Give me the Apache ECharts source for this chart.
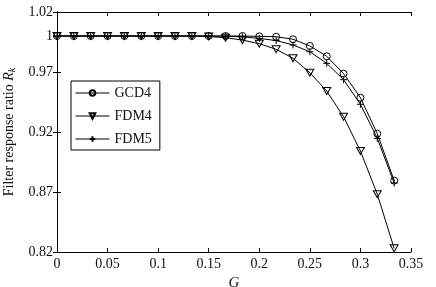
<!DOCTYPE html>
<html><head><meta charset="utf-8">
<script src="https://cdn.jsdelivr.net/npm/echarts@6/dist/echarts.min.js"></script>
<style>html,body{margin:0;padding:0;background:#fff}#c{width:436px;height:287px}</style>
</head><body><div id="c"></div>
<script>
const gValues = [0,1/60,2/60,3/60,4/60,5/60,6/60,7/60,8/60,9/60,10/60,11/60,12/60,13/60,14/60,15/60,16/60,17/60,18/60,19/60,20/60];
const gcd4 = [1,1,1,1,1,1,1,1,1,1,1,1,0.9997,0.9994,0.9973,0.9917,0.9831,0.9686,0.9486,0.9186,0.8795];
const fdm4 = [1,1,1,1,1,1,1,1,1,0.9996,0.9986,0.9966,0.9936,0.9889,0.9814,0.9694,0.9542,0.9327,0.9042,0.8681,0.8231];
const fdm5 = [1,1,1,1,1,1,1,1,1,1,0.9998,0.9993,0.998,0.9962,0.9925,0.9869,0.9772,0.9636,0.9431,0.9147,0.8775];
const yTicks = [0.82,0.87,0.92,0.97,1,1.02];
const seriesNames = ['GCD4','FDM4','FDM5'];

const font = '"Liberation Serif", "Times New Roman", serif';
const chart = echarts.init(document.getElementById('c'), null, {renderer:'canvas'});
const pair = arr => arr.map((v,i)=>[gValues[i], v]);
const triDown = 'path://M0,0 L10,0 L5,8.66 Z';
const plus = 'path://M5,0 L5,10 M0,5 L10,5';
const mk = (name, data, symbol, size) => ({
  name, type:'line', data: pair(data), symbol, symbolSize: size,
  showAllSymbol: true,
  lineStyle:{color:'#000', width:1},
  itemStyle:{color:'rgba(255,255,255,0)', borderColor:'#000', borderWidth:1},
  emphasis:{disabled:true}, animation:false
});
const axisCommon = {
  axisLine:{show:true, lineStyle:{color:'#000', width:1}},
  splitLine:{show:false},
};
chart.setOption({
  animation:false,
  textStyle:{fontFamily:font},
  grid:{left:57, right:25, top:12, bottom:35, containLabel:false, outerBoundsMode:'none'},
  legend:{
    data: seriesNames, orient:'vertical', left:71, top:81,
    borderColor:'#000', borderWidth:1, padding:[5,8,4,4], itemGap:9,
    itemWidth:34, itemHeight:7,
    lineStyle:{width:1},
    textStyle:{fontFamily:font, fontSize:14, color:'#111'}
  },
  xAxis:[{
    type:'value', min:0, max:0.35, interval:0.05, position:'bottom',
    ...axisCommon,
    axisTick:{show:true, inside:true, length:4, lineStyle:{color:'#000'}},
    axisLabel:{fontFamily:font, fontSize:14, color:'#111', margin:5,
      formatter: v => String(+v.toFixed(2))},
    name:'G', nameLocation:'middle', nameGap:18,
    nameTextStyle:{fontFamily:font, fontSize:15, fontStyle:'italic', color:'#111'}
  },{
    type:'value', min:0, max:0.35, interval:0.05, position:'top',
    ...axisCommon,
    axisTick:{show:true, inside:true, length:4, lineStyle:{color:'#000'}},
    axisLabel:{show:false}
  }],
  yAxis:[{
    type:'value', min:0.82, max:1.02, position:'left',
    ...axisCommon,
    axisTick:{show:true, inside:true, length:4, customValues: yTicks, lineStyle:{color:'#000'}},
    axisLabel:{fontFamily:font, fontSize:14, color:'#111', margin:4, customValues: yTicks,
      formatter: v => String(+v.toFixed(2))},
    name:'{a|Filter response ratio }{b|R}{c|k}', nameLocation:'middle', nameGap:38,
    nameTextStyle:{rich:{
      a:{fontFamily:font, fontSize:14, color:'#111'},
      b:{fontFamily:font, fontSize:14, fontStyle:'italic', color:'#111'},
      c:{fontFamily:font, fontSize:10, fontStyle:'italic', color:'#111', verticalAlign:'bottom', padding:[6,0,0,0]}
    }}
  },{
    type:'value', min:0.82, max:1.02, position:'right',
    ...axisCommon,
    axisTick:{show:true, inside:true, length:4, customValues: yTicks, lineStyle:{color:'#000'}},
    axisLabel:{show:false}
  }],
  series:[
    mk(seriesNames[0], gcd4, 'circle', 7),
    mk(seriesNames[1], fdm4, triDown, [8,7]),
    mk(seriesNames[2], fdm5, plus, 7)
  ]
});
</script></body></html>
